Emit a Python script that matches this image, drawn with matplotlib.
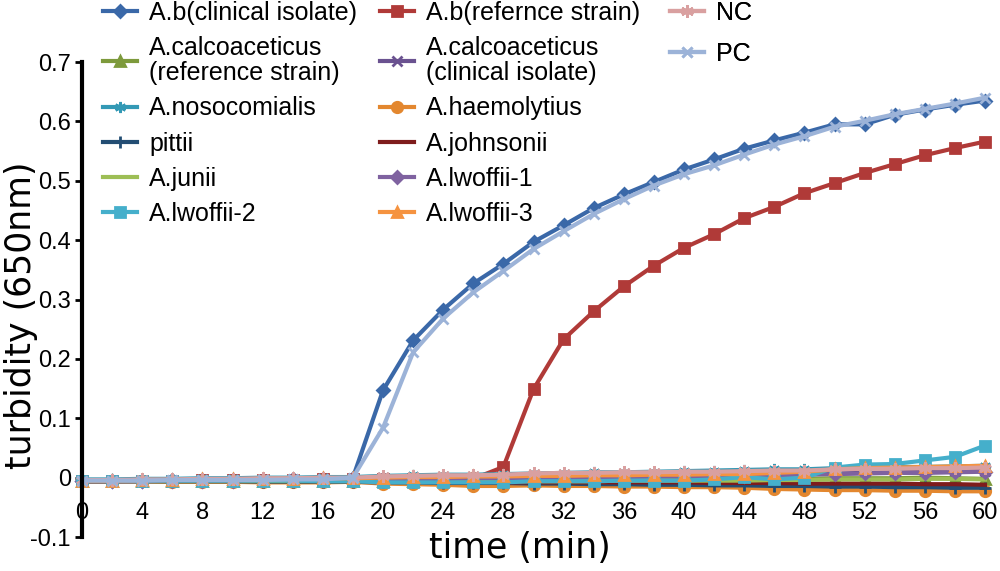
import numpy as np
import matplotlib
matplotlib.use("Agg")
import matplotlib.pyplot as plt

plt.rcParams['font.family'] = ['Liberation Sans', 'DejaVu Sans']

# sampling times (min)
time_min = [0, 2, 4, 6, 8, 10, 12, 14, 16, 18, 20, 22, 24, 26, 28, 30,
            32, 34, 36, 38, 40, 42, 44, 46, 48, 50, 52, 54, 56, 58, 60]

# turbidity readings (650nm)
ab_clinical = [-0.005, -0.005, -0.005, -0.004, -0.004, -0.004, -0.004, -0.003, -0.003, 0.000,
               0.147, 0.231, 0.283, 0.327, 0.360, 0.397, 0.425, 0.454, 0.477, 0.498,
               0.519, 0.536, 0.554, 0.568, 0.581, 0.595, 0.595, 0.611, 0.620, 0.628, 0.635]
ab_reference = [-0.005, -0.005, -0.005, -0.005, -0.004, -0.004, -0.004, -0.004, -0.003, -0.003,
                -0.003, -0.003, -0.002, -0.002, 0.018, 0.149, 0.233, 0.280, 0.322, 0.357,
                0.387, 0.410, 0.437, 0.456, 0.479, 0.496, 0.513, 0.528, 0.543, 0.555, 0.566]
calco_reference = [-0.006, -0.006, -0.006, -0.006, -0.006, -0.006, -0.006, -0.006, -0.006, -0.005,
                   -0.006, -0.006, -0.006, -0.006, -0.006, -0.006, -0.005, -0.005, -0.005, -0.005,
                   -0.004, -0.004, -0.004, -0.003, -0.002, -0.001, -0.001, -0.001, 0.000, -0.001, -0.002]
calco_clinical = [-0.006, -0.006, -0.005, -0.005, -0.005, -0.004, -0.004, -0.004, -0.003, -0.003,
                  -0.002, -0.002, -0.001, -0.001, 0.000, 0.000, 0.001, 0.001, 0.002, 0.002,
                  0.003, 0.004, 0.004, 0.005, 0.006, 0.007, 0.008, 0.009, 0.010, 0.011, 0.012]
nosocomialis = [-0.003, -0.003, -0.002, -0.002, -0.001, -0.001, 0.000, 0.000, 0.001, 0.001,
                0.003, 0.004, 0.005, 0.005, 0.006, 0.007, 0.008, 0.009, 0.009, 0.010,
                0.011, 0.012, 0.013, 0.014, 0.014, 0.016, 0.017, 0.018, 0.018, 0.019, 0.020]
haemolytius = [-0.006, -0.006, -0.006, -0.007, -0.007, -0.007, -0.008, -0.008, -0.008, -0.007,
               -0.010, -0.011, -0.012, -0.014, -0.014, -0.013, -0.014, -0.014, -0.015, -0.015,
               -0.016, -0.016, -0.017, -0.019, -0.020, -0.021, -0.021, -0.022, -0.022, -0.023, -0.023]
pittii = [-0.006, -0.006, -0.006, -0.006, -0.006, -0.006, -0.007, -0.007, -0.007, -0.007,
          -0.008, -0.008, -0.009, -0.009, -0.009, -0.010, -0.010, -0.011, -0.011, -0.012,
          -0.012, -0.013, -0.013, -0.014, -0.014, -0.015, -0.015, -0.016, -0.016, -0.017, -0.017]
johnsonii = [-0.006, -0.006, -0.006, -0.006, -0.006, -0.006, -0.006, -0.006, -0.006, -0.006,
             -0.007, -0.007, -0.007, -0.007, -0.008, -0.008, -0.008, -0.008, -0.008, -0.008,
             -0.008, -0.009, -0.009, -0.009, -0.010, -0.010, -0.010, -0.010, -0.011, -0.011, -0.012]
junii = [-0.006, -0.006, -0.006, -0.006, -0.006, -0.006, -0.006, -0.006, -0.006, -0.006,
         -0.006, -0.006, -0.006, -0.006, -0.006, -0.006, -0.006, -0.006, -0.005, -0.005,
         -0.005, -0.005, -0.005, -0.004, -0.004, -0.003, -0.003, -0.003, -0.002, -0.002, -0.003]
lwoffii_1 = [-0.006, -0.006, -0.006, -0.005, -0.005, -0.005, -0.004, -0.004, -0.004, -0.003,
             -0.003, -0.002, -0.002, -0.001, -0.001, 0.000, 0.000, 0.001, 0.001, 0.002,
             0.002, 0.003, 0.003, 0.004, 0.005, 0.006, 0.007, 0.008, 0.008, 0.009, 0.010]
lwoffii_2 = [-0.005, -0.005, -0.005, -0.005, -0.005, -0.005, -0.005, -0.005, -0.006, -0.006,
             -0.008, -0.008, -0.008, -0.008, -0.008, -0.006, -0.006, -0.006, -0.005, -0.005,
             -0.005, -0.003, 0.001, -0.003, 0.000, 0.017, 0.022, 0.023, 0.029, 0.035, 0.054]
lwoffii_3 = [-0.005, -0.005, -0.004, -0.004, -0.003, -0.003, -0.002, -0.002, -0.001, -0.001,
             0.000, 0.001, 0.001, 0.002, 0.002, 0.003, 0.003, 0.004, 0.004, 0.005,
             0.005, 0.006, 0.006, 0.008, 0.010, 0.014, 0.016, 0.017, 0.018, 0.019, 0.020]
nc = [-0.004, -0.004, -0.003, -0.003, -0.002, -0.002, -0.001, -0.001, 0.000, 0.000,
      0.002, 0.003, 0.004, 0.004, 0.005, 0.007, 0.008, 0.008, 0.009, 0.009,
      0.010, 0.010, 0.011, 0.012, 0.012, 0.014, 0.015, 0.015, 0.016, 0.016, 0.017]
pc = [-0.005, -0.005, -0.005, -0.004, -0.004, -0.004, -0.004, -0.003, -0.003, 0.000,
      0.084, 0.211, 0.268, 0.312, 0.348, 0.385, 0.415, 0.444, 0.469, 0.492,
      0.511, 0.526, 0.544, 0.561, 0.575, 0.591, 0.601, 0.612, 0.621, 0.630, 0.640]

xticks = [0, 4, 8, 12, 16, 20, 24, 28, 32, 36, 40, 44, 48, 52, 56, 60]
yticks = [0.7, 0.6, 0.5, 0.4, 0.3, 0.2, 0.1, 0.0, -0.1]
ytick_labels = ['0.7', '0.6', '0.5', '0.4', '0.3', '0.2', '0.1', '0', '-0.1']

asterisk = (6, 2, 0)

# (label, values, color, marker, marker size)
series = [
    ("A.b(clinical isolate)", ab_clinical, '#3A68A8', 'D', 6.5),
    ("A.b(refernce strain)", ab_reference, '#B03A38', 's', 7.5),
    ("A.calcoaceticus\n(reference strain)", calco_reference, '#7D9A3C', '^', 7.5),
    ("A.calcoaceticus\n(clinical isolate)", calco_clinical, '#6A5290', 'x', 7),
    ("A.nosocomialis", nosocomialis, '#3399B5', asterisk, 8),
    ("A.haemolytius", haemolytius, '#E3872F', 'o', 7.5),
    ("pittii", pittii, '#234D73', '+', 8),
    ("A.johnsonii", johnsonii, '#7E1C1C', None, 0),
    ("A.junii", junii, '#9DBE55', None, 0),
    ("A.lwoffii-1", lwoffii_1, '#7F62A0', 'D', 6.5),
    ("A.lwoffii-2", lwoffii_2, '#45AFCB', 's', 7.5),
    ("A.lwoffii-3", lwoffii_3, '#F59340', '^', 7.5),
    ("NC", nc, '#D9A0A0', asterisk, 9),
    ("PC", pc, '#9CB3D8', 'x', 7),
]

fig = plt.figure(figsize=(10, 5.71), dpi=100)
ax = fig.add_axes([0.082, 0.0595, 0.903, 0.8319])

lines = {}
for label, vals, color, marker, ms in series:
    ln, = ax.plot(time_min, vals, color=color, lw=3, marker=marker, ms=ms,
                  mfc=color, mec=color, mew=2, clip_on=False, label=label)
    lines[label] = ln

ax.set_xlim(0, 60)
ax.set_ylim(-0.1, 0.7)
ax.set_yticks(yticks)
ax.set_yticklabels(ytick_labels)
ax.set_xticks(xticks)

for side in ['top', 'right']:
    ax.spines[side].set_visible(False)
ax.spines['bottom'].set_visible(False)
ax.spines['bottom'].set_position(('data', -0.036))
ax.spines['left'].set_linewidth(3)

ax.tick_params(axis='y', direction='out', length=5, width=2, labelsize=17, pad=3)
ax.tick_params(axis='x', length=0, labelsize=17, pad=2)

fig.text(0.52, 1 - 548 / 571, "time (min)", ha='center', va='center',
         fontsize=25, family='DejaVu Sans')
fig.text(0.021, 1 - 315 / 571, "turbidity (650nm)", ha='center', va='center',
         rotation=90, fontsize=25, family='DejaVu Sans')

# three legend columns: (left edge, row spacing, entries)
columns = [
    (0.103, 0.45, ["A.b(clinical isolate)", "A.calcoaceticus\n(reference strain)", "A.nosocomialis",
                   "pittii", "A.junii", "A.lwoffii-2"]),
    (0.380, 0.45, ["A.b(refernce strain)", "A.calcoaceticus\n(clinical isolate)", "A.haemolytius",
                   "A.johnsonii", "A.lwoffii-1", "A.lwoffii-3"]),
    (0.670, 0.68, ["NC", "PC"]),
]

for x0, spacing, labels in columns:
    leg = ax.legend([lines[l] for l in labels], labels, loc='upper left',
                    bbox_to_anchor=(x0, 1.0 - 1 / 571), bbox_transform=fig.transFigure,
                    frameon=False, fontsize=18, borderpad=0, borderaxespad=0,
                    handlelength=1.35, handletextpad=0.5, labelspacing=spacing,
                    numpoints=1)
    for txt in leg.get_texts():
        txt.set_linespacing(1.05)
    ax.add_artist(leg)

fig.savefig("out.png", dpi=100)
